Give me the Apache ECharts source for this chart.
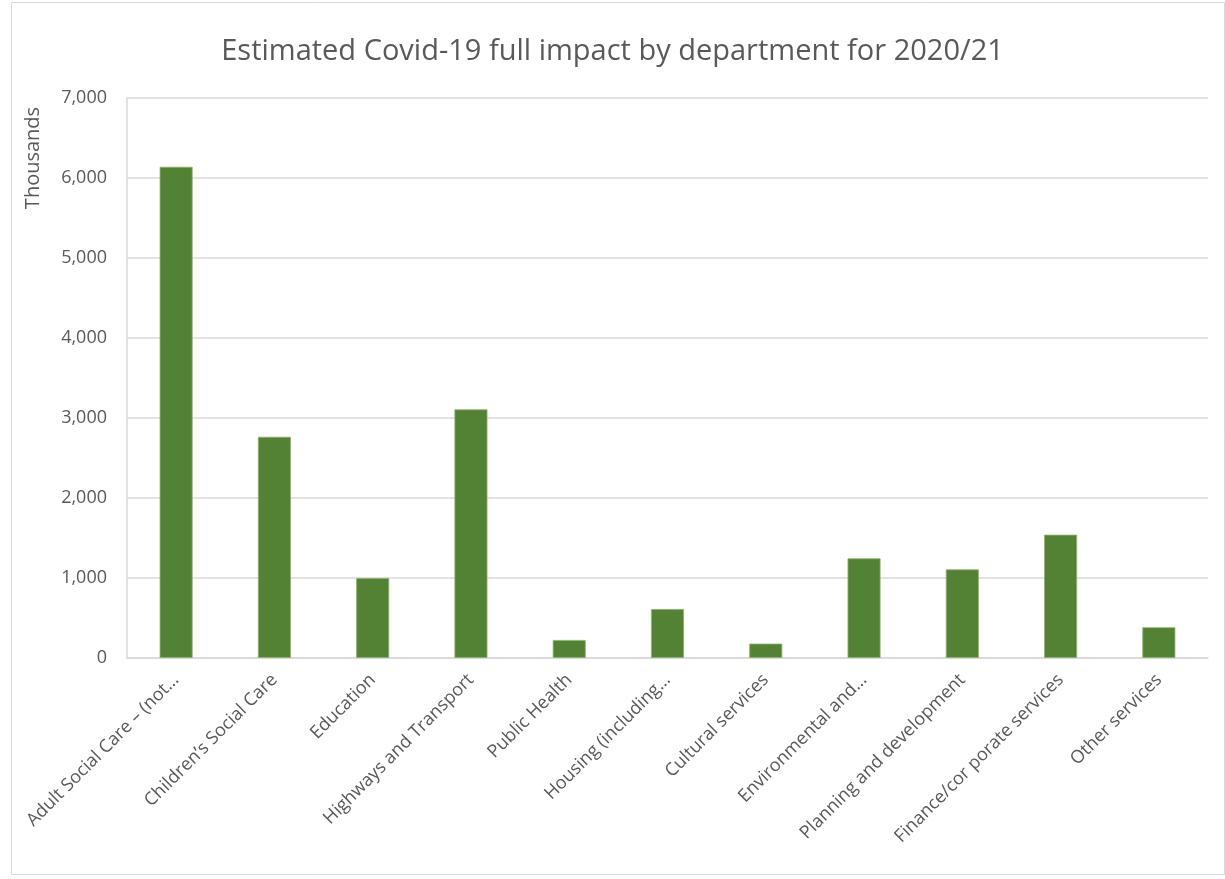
<!DOCTYPE html>
<html><head><meta charset="utf-8">
<script src="https://cdn.jsdelivr.net/npm/echarts@6/dist/echarts.min.js"></script>
<style>html,body{margin:0;padding:0;background:#fff}#c{width:1225px;height:879px}</style>
</head><body><div id="c"></div>
<script>
const categories = ["Adult Social Care \u2013 (not\u2026", "Children\u2019s Social Care", "Education", "Highways and Transport", "Public Health", "Housing (including\u2026", "Cultural services", "Environmental and\u2026", "Planning and development", "Finance/cor porate services", "Other services"];
const values = [6140, 2765, 1000, 3108, 225, 612, 180, 1246, 1108, 1541, 384];
const yTicks = [0, 1000, 2000, 3000, 4000, 5000, 6000, 7000];
const titleText = "Estimated Covid-19 full impact by department for 2020/21";
const yName = "Thousands";

const chart = echarts.init(document.getElementById('c'), null, {renderer: 'canvas'});
const font = "'Open Sans', 'Noto Sans', sans-serif";
chart.setOption({
  animation: false,
  title: {text: titleText, left: 'center', top: 32,
    textStyle: {fontFamily: font, fontSize: 29, fontWeight: 'normal', color: '#595959'}},
  graphic: [
    {type: 'rect', left: 9, top: 0, shape: {width: 1213, height: 872}, style: {fill: 'none', stroke: '#d9d9d9', lineWidth: 1}, silent: true},
    {type: 'text', x: 33, y: 158, rotation: Math.PI / 2,
      style: {text: yName, fontFamily: font, fontSize: 20, fill: '#595959', align: 'center', verticalAlign: 'middle'}}
  ],
  grid: {left: 127, right: 17, top: 98, bottom: 221, containLabel: false},
  xAxis: {type: 'category', data: categories,
    axisLine: {lineStyle: {color: '#d9d9d9', width: 1.5}},
    axisTick: {show: false},
    axisLabel: {rotate: 45, interval: 0, color: '#595959', fontFamily: font, fontSize: 18, margin: 19}},
  yAxis: {type: 'value', min: yTicks[0], max: yTicks[yTicks.length - 1], interval: 1000,
    axisLine: {show: true, lineStyle: {color: '#d9d9d9', width: 1.5}},
    axisTick: {show: false},
    splitLine: {lineStyle: {color: '#d9d9d9', width: 1.5}},
    axisLabel: {color: '#595959', fontFamily: font, fontSize: 18, margin: 20,
      formatter: v => v.toLocaleString('en-US')}},
  series: [{type: 'bar', data: values, barWidth: 33,
    itemStyle: {color: '#548235', borderColor: '#8fb26f', borderWidth: 0.8}}]
});
</script></body></html>
